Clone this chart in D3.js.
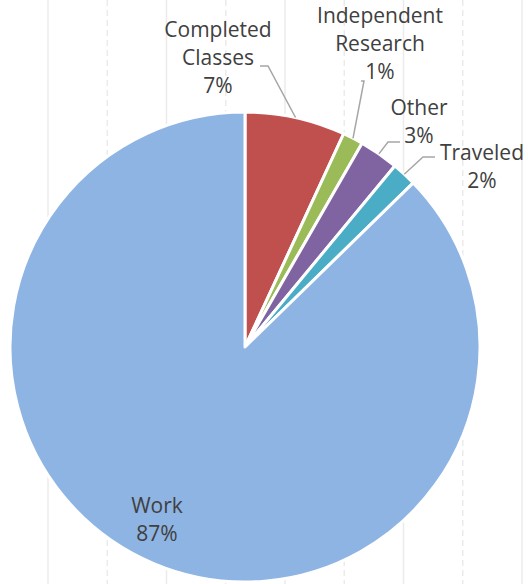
<!DOCTYPE html>
<html>
<head>
<meta charset="utf-8">
<script src="https://cdn.jsdelivr.net/npm/d3@7"></script>
<style>
  body { margin: 0; background: #fff; }
  text { font-family: "Open Sans", sans-serif; fill: #404040; font-size: 21px; }
</style>
</head>
<body>
<div id="chart"></div>
<script>
// data
var categories = ["Completed Classes", "Independent Research", "Other", "Traveled", "Work"];
var values = [6.9, 1.4, 2.7, 1.7, 87.3];
var colors = ["#C0504D", "#9BBB59", "#8064A2", "#4BACC6", "#8EB4E3"];
var labelLines = [["Completed", "Classes"], ["Independent", "Research"], ["Other"], ["Traveled"], ["Work"]];

// layout for the labels: text centre + first baseline, and leader elbow
var labelPos = [[218, 37], [380, 23], [419, 115], [482, 160], [157, 513]];
var leaders = [[[260, 66], [268, 66]], [[361, 81], [364, 81]], [[400, 142], [388, 142]], [[435, 157], [423, 157]], null];

var width = 528,
    height = 584,
    cx = 245,
    cy = 347,
    radius = 235,
    lineH = 28;

var svg = d3.select("#chart").append("svg")
    .attr("width", width)
    .attr("height", height);

// faint vertical gridlines behind the pie
var gx = d3.scaleLinear().domain([0, 8]).range([48, 522]);
svg.append("g").selectAll("line")
    .data(d3.range(0, 9))
    .enter().append("line")
    .attr("x1", function(d) { return gx(d); })
    .attr("x2", function(d) { return gx(d); })
    .attr("y1", 0)
    .attr("y2", height)
    .attr("stroke", "#ebebeb")
    .attr("stroke-width", 1.5)
    .attr("stroke-dasharray", function(d) { return d % 2 ? "6,4" : null; });

var total = d3.sum(values);
var pie = d3.pie().sort(null)(values);
var arc = d3.arc().innerRadius(0).outerRadius(radius);

var g = svg.append("g").attr("transform", "translate(" + cx + "," + cy + ")");

g.selectAll("path")
    .data(pie)
    .enter().append("path")
    .attr("d", arc)
    .attr("fill", function(d, i) { return colors[i]; })
    .attr("stroke", "#fff")
    .attr("stroke-width", 3)
    .attr("stroke-linejoin", "round");

// leader lines, ending at the outer edge at mid angle
pie.forEach(function(d, i) {
    if (!leaders[i]) return;
    var a = (d.startAngle + d.endAngle) / 2;
    var end = [cx + radius * Math.sin(a), cy - radius * Math.cos(a)];
    svg.append("polyline")
        .attr("points", [leaders[i][0], leaders[i][1], end].map(function(p) { return p.join(","); }).join(" "))
        .attr("fill", "none")
        .attr("stroke", "#a6a6a6")
        .attr("stroke-width", 1.5);
});

// labels
categories.forEach(function(c, i) {
    var lines = labelLines[i].concat([Math.round(values[i] / total * 100) + "%"]);
    var t = svg.append("text")
        .attr("text-anchor", "middle")
        .attr("x", labelPos[i][0])
        .attr("y", labelPos[i][1]);
    lines.forEach(function(s, j) {
        t.append("tspan")
            .attr("x", labelPos[i][0])
            .attr("dy", j ? lineH : 0)
            .text(s);
    });
});
</script>
</body>
</html>
